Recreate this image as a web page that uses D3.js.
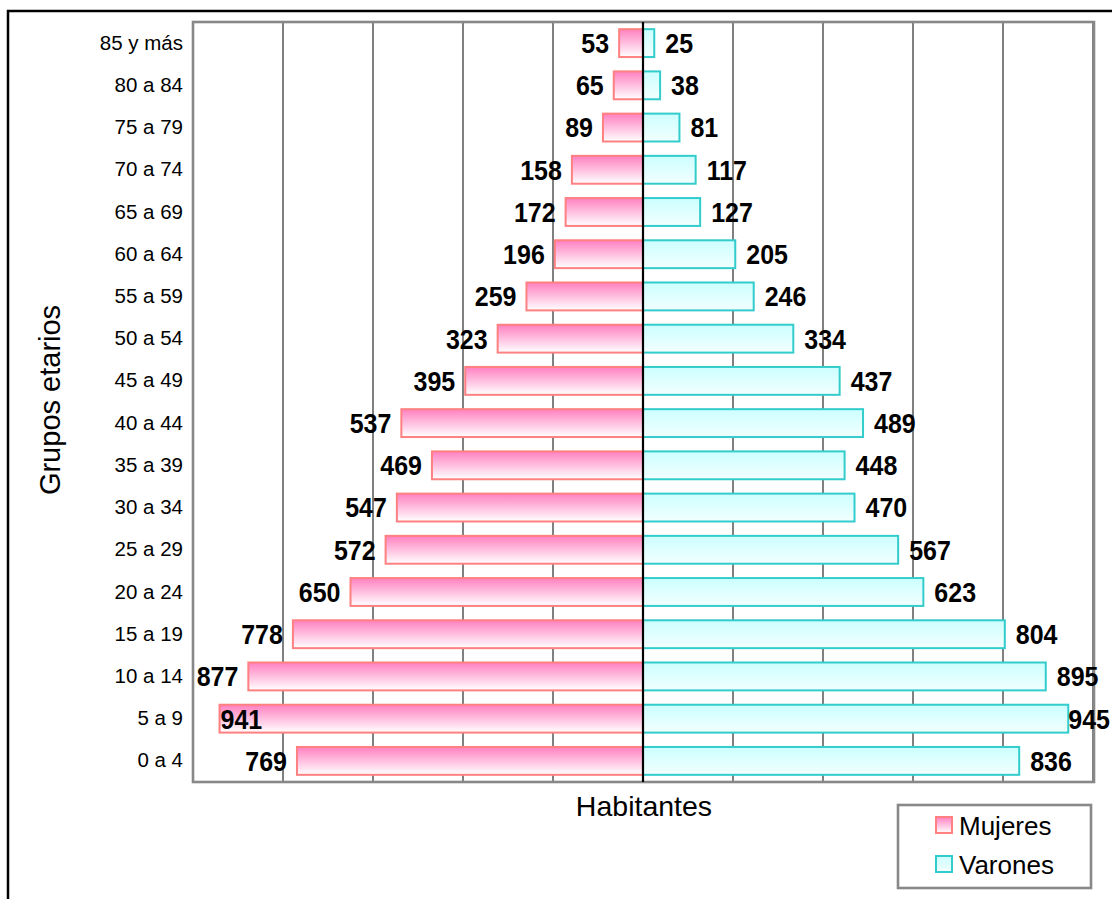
<!DOCTYPE html>
<html>
<head>
<meta charset="utf-8">
<script src="https://cdn.jsdelivr.net/npm/d3@7"></script>
<style>
  html, body { margin: 0; padding: 0; background: #fff; }
  svg { display: block; font-family: "Liberation Sans", Arial, sans-serif; }
</style>
</head>
<body>
<svg id="chart" width="1112" height="899"></svg>
<script>
// Data (top to bottom as shown)
const categories = ["85 y más","80 a 84","75 a 79","70 a 74","65 a 69","60 a 64","55 a 59","50 a 54","45 a 49","40 a 44","35 a 39","30 a 34","25 a 29","20 a 24","15 a 19","10 a 14","5 a 9","0 a 4"];
const mujeres = [53,65,89,158,172,196,259,323,395,537,469,547,572,650,778,877,941,769];
const varones = [25,38,81,117,127,205,246,334,437,489,448,470,567,623,804,895,945,836];
const gridTicks = [-1000,-800,-600,-400,-200,0,200,400,600,800,1000];
const seriesNames = ["Mujeres","Varones"];

const svg = d3.select("#chart");
const W = 1112, H = 899;
const plot = { left: 193, right: 1093, top: 22, bottom: 782 };

// gradients
const defs = svg.append("defs");
const gP = defs.append("linearGradient").attr("id","gPink").attr("x1",0).attr("y1",0).attr("x2",0).attr("y2",1);
gP.append("stop").attr("offset","0%").attr("stop-color","#ff80c0");
gP.append("stop").attr("offset","100%").attr("stop-color","#ffffff");
const gC = defs.append("linearGradient").attr("id","gCyan").attr("x1",0).attr("y1",0).attr("x2",0).attr("y2",1);
gC.append("stop").attr("offset","0%").attr("stop-color","#ccffff");
gC.append("stop").attr("offset","100%").attr("stop-color","#f2ffff");

// outer frame
svg.append("rect").attr("x",8).attr("y",11).attr("width",1120).attr("height",900)
  .attr("fill","none").attr("stroke","#000").attr("stroke-width",2.5);

const x = d3.scaleLinear().domain([-1000,1000]).range([plot.left, plot.right]);
const y = d3.scaleBand().domain(categories).range([plot.top, plot.bottom]).paddingInner(0.34).paddingOuter(0.17);

// gridlines
svg.append("g").selectAll("line").data(gridTicks.filter(d => d !== 0)).join("line")
  .attr("x1", d => x(d)).attr("x2", d => x(d))
  .attr("y1", plot.top).attr("y2", plot.bottom)
  .attr("stroke","#808080").attr("stroke-width",2);

// plot border
svg.append("rect").attr("x",plot.left).attr("y",plot.top)
  .attr("width",plot.right-plot.left+1).attr("height",plot.bottom-plot.top)
  .attr("fill","none").attr("stroke","#888").attr("stroke-width",2.6);

// bars
const bars = svg.append("g");
bars.selectAll("rect.m").data(categories).join("rect").attr("class","m")
  .attr("x", (d,i) => x(-mujeres[i])).attr("y", d => y(d))
  .attr("width", (d,i) => x(0) - x(-mujeres[i])).attr("height", y.bandwidth())
  .attr("fill","url(#gPink)").attr("stroke","#ff8080").attr("stroke-width",2);
bars.selectAll("rect.v").data(categories).join("rect").attr("class","v")
  .attr("x", x(0)).attr("y", d => y(d))
  .attr("width", (d,i) => x(varones[i]) - x(0)).attr("height", y.bandwidth())
  .attr("fill","url(#gCyan)").attr("stroke","#33cccc").attr("stroke-width",2);

// center line
svg.append("line").attr("x1",x(0)).attr("x2",x(0)).attr("y1",plot.top).attr("y2",plot.bottom)
  .attr("stroke","#000").attr("stroke-width",2.2);

// y axis via d3.axisLeft
const yAxis = d3.axisLeft(y).tickSize(0).tickPadding(10);
const ya = svg.append("g").attr("transform",`translate(${plot.left},0)`).call(yAxis);
ya.select(".domain").remove();
ya.selectAll("text").attr("font-size",20.5).attr("fill","#000")
  .attr("font-family","'Liberation Sans', Arial, sans-serif");

// value labels
const lbl = svg.append("g").attr("font-weight","bold").attr("font-size",25).attr("fill","#000");
function place(t, px, py, anchor) {
  t.attr("text-anchor", anchor).attr("transform", `translate(${px},${py}) scale(1,1.1)`);
}
categories.forEach((c,i) => {
  const cy = y(c) + y.bandwidth()/2;
  // left
  const bx = x(-mujeres[i]);
  const t = lbl.append("text").attr("dy","0.36em").text(mujeres[i]);
  const w = t.node().getComputedTextLength();
  if (bx - 10 - w < plot.left) place(t, bx + 1, cy, "start");
  else place(t, bx - 10, cy, "end");
  // right
  const rx = x(varones[i]);
  const t2 = lbl.append("text").attr("dy","0.36em").text(varones[i]);
  const w2 = t2.node().getComputedTextLength();
  if (rx + 11 + w2 > W - 2) place(t2, W - 2, cy, "end");
  else place(t2, rx + 11, cy, "start");
});

// axis titles
svg.append("text").attr("x",644).attr("y",816).attr("text-anchor","middle")
  .attr("font-size",28.5).text("Habitantes");
svg.append("text").attr("transform","translate(60,400) rotate(-90)").attr("text-anchor","middle")
  .attr("font-size",29).text("Grupos etarios");

// legend
const lg = svg.append("g");
lg.append("rect").attr("x",898).attr("y",805).attr("width",193).attr("height",83)
  .attr("fill","#fff").attr("stroke","#888").attr("stroke-width",2.6);
const fills = ["url(#gPink)","url(#gCyan)"], strokes = ["#ff8080","#33cccc"];
seriesNames.forEach((n,i) => {
  const yy = 817 + i*39;
  lg.append("rect").attr("x",936).attr("y",yy).attr("width",16).attr("height",16)
    .attr("fill",fills[i]).attr("stroke",strokes[i]).attr("stroke-width",2);
  lg.append("text").attr("x",959).attr("y",yy+18).attr("font-size",26).text(n);
});
</script>
</body>
</html>
